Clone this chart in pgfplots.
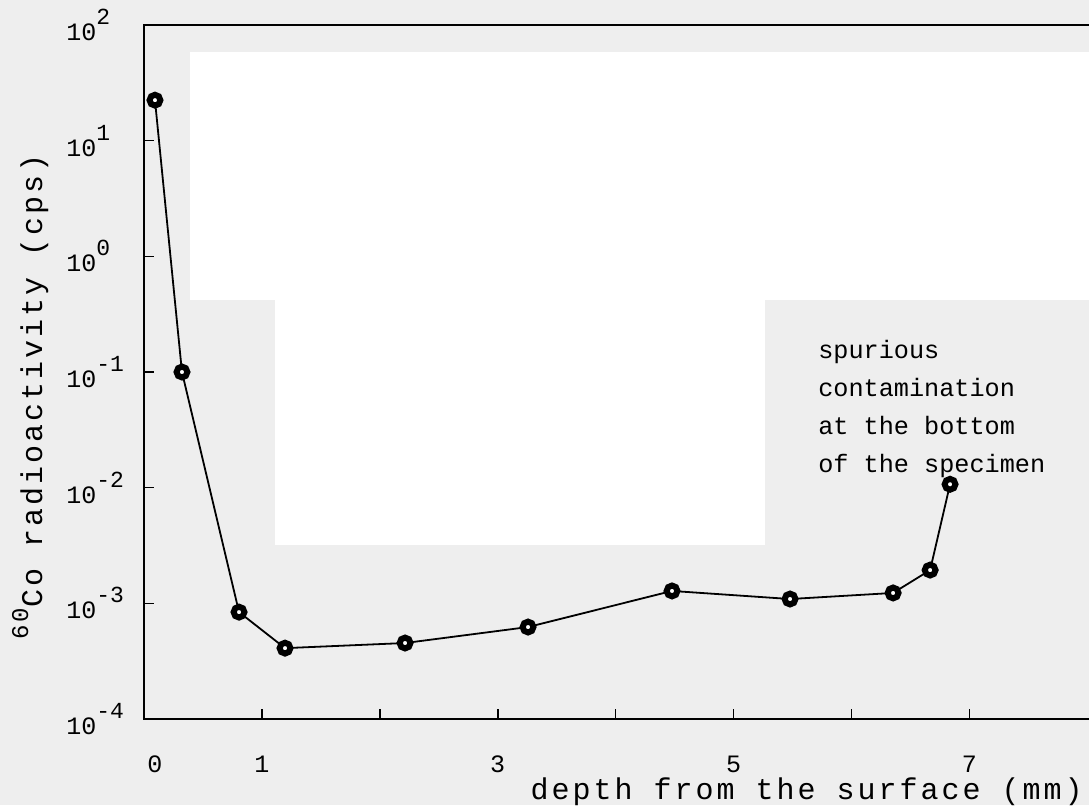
\documentclass[border=0pt]{standalone}
\usepackage{pgfplots}
\pgfplotsset{compat=1.18}
\usepackage{fontspec}
\setmainfont{Liberation Mono}
\newfontfamily\spaced[LetterSpace=10]{Liberation Mono}
\usetikzlibrary{backgrounds}
\definecolor{bg}{HTML}{EEEEEE}
\newcommand{\ex}[1]{\raisebox{8pt}{\fontsize{11.5}{11.5}\selectfont #1}}
\begin{document}
\begin{tikzpicture}
\begin{axis}[
  at={(72pt,-359.5pt)}, anchor=south west,
  scale only axis, width=474.6pt, height=347pt,
  xmin=0, xmax=8.05, ymode=log, ymin=1e-4, ymax=1e2,
  xtick={0,1,2,3,4,5,6,7},
  xticklabels={\hspace*{11pt}0,1,,3,,5,,7},
  ytick={1e-4,1e-3,1e-2,1e-1,1,10,100},
  yticklabels={10\ex{-4},10\ex{-3},10\ex{-2},10\ex{-1},10\ex{0},10\ex{1},10\ex{2}},
  yminorticks=false, xminorticks=false,
  tick align=inside, tick pos=left,
  major tick length=5pt,
  tick style={black, line width=0.8pt},
  axis line style={line width=1.2pt},
  xticklabel style={anchor=center, yshift=-22.5pt, font=\fontsize{12.5}{12.5}\selectfont},
  yticklabel style={anchor=west, xshift=-39pt, inner sep=0pt, font=\fontsize{12.5}{12.5}\selectfont},
  xlabel={depth from the surface (mm)},
  xlabel style={at={(axis description cs:1,0)}, anchor=base east, xshift=-5pt, yshift=-40pt, inner sep=0pt, font=\spaced\fontsize{15}{15}\selectfont},
  ylabel={{\fontsize{12}{12}\selectfont\raisebox{7pt}{60}}Co radioactivity (cps)},
  ylabel style={at={(axis description cs:-0.12,0.464)}, anchor=center, inner sep=0pt, font=\spaced\fontsize{15}{15}\selectfont},
  clip=false,
]
\addplot[black, line width=0.9pt, mark=*, mark size=2.7pt,
  mark options={fill=white, draw=black, line width=3pt}] coordinates {
  (0.093,22.4) (0.322,0.1) (0.806,8.4e-4) (1.196,4.1e-4) (2.214,4.54e-4)
  (3.257,6.24e-4) (4.478,1.28e-3) (5.479,1.09e-3) (6.353,1.23e-3)
  (6.667,1.94e-3) (6.836,1.07e-2)
};
\node[anchor=north west, align=left, inner sep=0pt, font=\fontsize{12.6}{19}\selectfont]
  at (rel axis cs:0.710,0.546) {spurious\\contamination\\at the bottom\\of the specimen};
\end{axis}
\begin{scope}[on background layer]
\fill[bg] (0,0) rectangle (544.5pt,-402.5pt);
\fill[white] (95pt,-26pt) rectangle (544.5pt,-150pt);
\fill[white] (137.5pt,-150pt) rectangle (382.5pt,-272.5pt);
\end{scope}
\pgfresetboundingbox
\useasboundingbox (0,0) rectangle (544.5pt,-402.5pt);
\end{tikzpicture}
\end{document}
